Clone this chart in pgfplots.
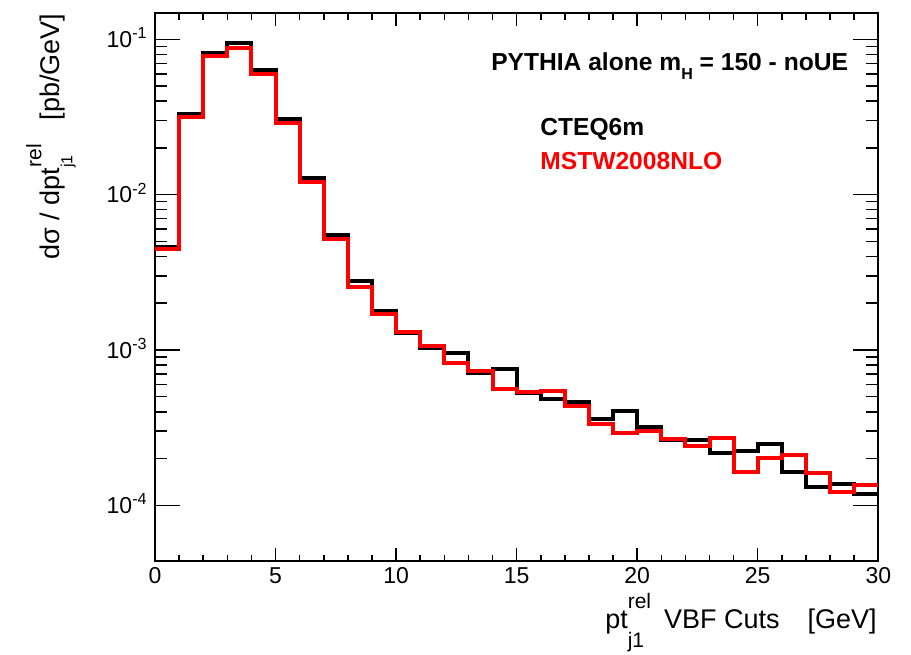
\documentclass[border=0pt]{standalone}
\usepackage{fontspec}
\setmainfont{Liberation Sans}
\usepackage{pgfplots}
\usepackage{pgfplotstable}
\pgfplotsset{compat=1.18}

% d sigma / d pt_j1^rel, 1 GeV bins, last row repeats the final bin
\pgfplotstableread{
x y
0  4.62e-3
1  3.30e-2
2  8.20e-2
3  9.42e-2
4  6.37e-2
5  3.05e-2
6  1.274e-2
7  5.47e-3
8  2.79e-3
9  1.78e-3
10 1.28e-3
11 1.033e-3
12 9.51e-4
13 7.07e-4
14 7.50e-4
15 5.25e-4
16 4.81e-4
17 4.64e-4
18 3.61e-4
19 4.04e-4
20 3.19e-4
21 2.62e-4
22 2.62e-4
23 2.16e-4
24 2.23e-4
25 2.49e-4
26 1.65e-4
27 1.315e-4
28 1.38e-4
29 1.19e-4
30 1.19e-4
}\cteq

\pgfplotstableread{
x y
0  4.45e-3
1  3.18e-2
2  7.81e-2
3  8.83e-2
4  5.98e-2
5  2.88e-2
6  1.20e-2
7  5.15e-3
8  2.53e-3
9  1.71e-3
10 1.31e-3
11 1.064e-3
12 8.24e-4
13 7.35e-4
14 5.57e-4
15 5.38e-4
16 5.46e-4
17 4.37e-4
18 3.32e-4
19 2.92e-4
20 2.99e-4
21 2.67e-4
22 2.42e-4
23 2.70e-4
24 1.64e-4
25 2.01e-4
26 2.11e-4
27 1.61e-4
28 1.22e-4
29 1.35e-4
30 1.35e-4
}\mstw

% pt with stacked "rel" superscript and "j1" subscript:
% #1 sup size, #2 sub size, #3 sup raise, #4 sub drop
\newcommand{\ptrel}[4]{pt\rlap{\raisebox{-#4}{\fontsize{#2}{#2}\selectfont j1}}\raisebox{#3}{\fontsize{#1}{#1}\selectfont rel}}

\begin{document}
\begin{tikzpicture}
\useasboundingbox (-77.5pt,-46.5pt) rectangle (378pt,280.5pt);
\begin{axis}[
  scale only axis,
  width=361.65pt, height=273.85pt,
  ymode=log,
  xmin=0, xmax=30, ymin=4.38e-5, ymax=0.147,
  xtick={0,5,...,30}, xticklabels={0,5,10,15,20,25,30},
  minor x tick num=4,
  ytick={1e-4,1e-3,1e-2,1e-1},
  yticklabels={10\textsuperscript{-4},10\textsuperscript{-3},10\textsuperscript{-2},10\textsuperscript{-1}},
  axis line style={line width=1pt},
  tick style={black, line width=0.75pt},
  xtick style={/pgfplots/major tick length=6.5pt, /pgfplots/minor tick length=3.25pt},
  ytick style={/pgfplots/major tick length=12.5pt, /pgfplots/minor tick length=6pt},
  xticklabel style={font=\fontsize{11.5}{13}\selectfont, anchor=north, inner sep=0pt, yshift=-3.15pt},
  yticklabel style={font=\fontsize{11.5}{13}\selectfont, anchor=base east, inner sep=0pt, xshift=-3.5pt, yshift=-4.1pt},
]
\addplot[const plot, black, line width=2pt] table {\cteq};
\addplot[const plot, red, line width=2pt] table {\mstw};
\end{axis}

% axis titles
\node[rotate=90, anchor=base east, inner sep=0pt, font=\fontsize{13.5}{15}\selectfont]
  at (-47.85pt,273.85pt) {dσ / d\ptrel{10.5pt}{8pt}{9pt}{6.5pt}\hspace{12pt}[pb/GeV]};
\node[anchor=base east, inner sep=0pt, font=\fontsize{13.5}{15}\selectfont]
  at (361pt,-33.65pt) {\ptrel{10.5pt}{10.5pt}{10pt}{9.5pt}\hspace{0.2em} VBF Cuts\hspace{14pt}[GeV]};

% annotations
\node[anchor=base east, inner sep=0pt, font=\bfseries\fontsize{12.3}{14}\selectfont]
  at (346.7pt,245.2pt) {PYTHIA alone m\raisebox{-4.3pt}{\fontsize{8}{9}\selectfont H} = 150 - noUE};
\node[anchor=base west, inner sep=0pt, font=\bfseries\fontsize{12.3}{14}\selectfont]
  at (192.5pt,212.5pt) {CTEQ6m};
\node[anchor=base west, inner sep=0pt, font=\bfseries\fontsize{12.3}{14}\selectfont, text=red]
  at (192.5pt,195.9pt) {MSTW2008NLO};
\end{tikzpicture}
\end{document}
